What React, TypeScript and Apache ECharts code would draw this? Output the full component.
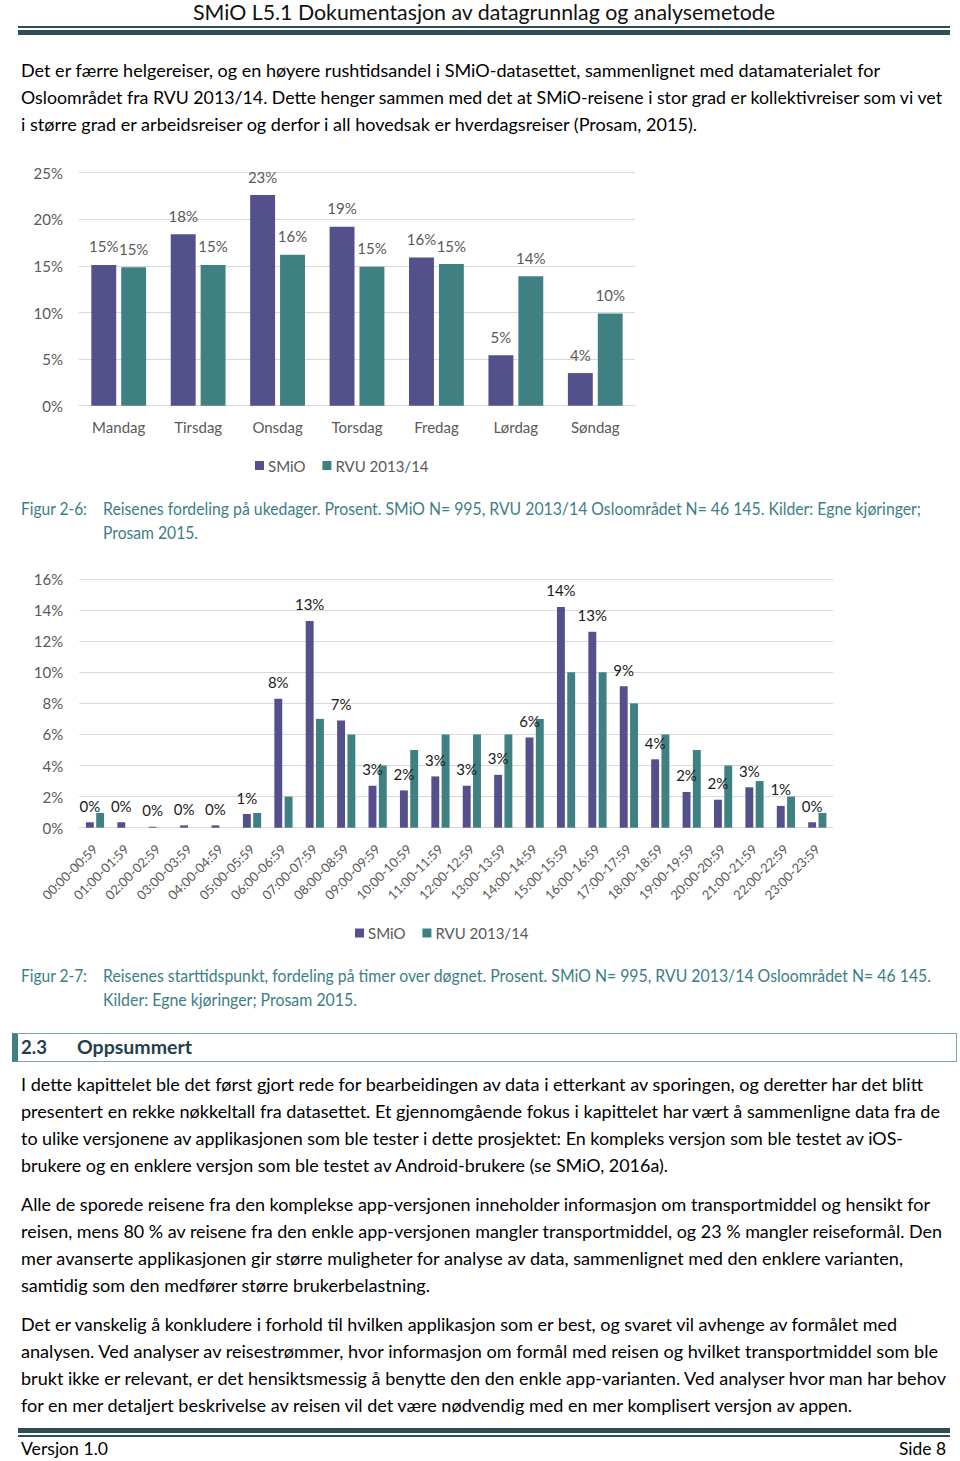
import React, { useEffect, useLayoutEffect, useRef } from "react";
import * as echarts from "echarts";

// ---------- DATA ----------
const days = ["Mandag", "Tirsdag", "Onsdag", "Torsdag", "Fredag", "Lørdag", "Søndag"];
const smioDay = [15.1, 18.4, 22.6, 19.2, 15.9, 5.4, 3.5];
const rvuDay = [14.85, 15.1, 16.2, 14.9, 15.2, 13.9, 9.9];

const hours = [
  "00:00-00:59", "01:00-01:59", "02:00-02:59", "03:00-03:59", "04:00-04:59", "05:00-05:59",
  "06:00-06:59", "07:00-07:59", "08:00-08:59", "09:00-09:59", "10:00-10:59", "11:00-11:59",
  "12:00-12:59", "13:00-13:59", "14:00-14:59", "15:00-15:59", "16:00-16:59", "17:00-17:59",
  "18:00-18:59", "19:00-19:59", "20:00-20:59", "21:00-21:59", "22:00-22:59", "23:00-23:59",
];
const smioHour = [0.35, 0.35, 0.06, 0.15, 0.15, 0.88, 8.3, 13.3, 6.9, 2.7, 2.4, 3.3, 2.7, 3.4, 5.8, 14.2, 12.6, 9.1, 4.4, 2.3, 1.8, 2.6, 1.4, 0.35];
const rvuHour = [0.95, 0, 0, 0, 0, 0.95, 2.0, 7.0, 6.0, 4.0, 5.0, 6.0, 6.0, 6.0, 7.0, 10.0, 10.0, 8.0, 6.0, 5.0, 4.0, 3.0, 2.0, 0.95];

const seriesNames = ["SMiO", "RVU 2013/14"];

// ---------- STYLE ----------
const FONT = "Lato, 'Open Sans', sans-serif";
const C_SMIO = "#54508B";
const C_RVU = "#3F8083";
const C_AXIS = "#595959";
const C_GRID = "#D9D9D9";
const C_RULE = "#2E4D55";
const C_CAPTION = "#3C7E85";

function FitLine(props: {
  x: number; y: number; w?: number; text: string; size?: number; color?: string;
  weight?: number | string;
}) {
  const { x, y, w, text, size = 17, color = "#000", weight = 400 } = props;
  const ref = useRef<HTMLSpanElement>(null);
  useLayoutEffect(() => {
    const measure = () => {
      const el = ref.current;
      if (!el || !w) return;
      el.style.transform = "none";
      const nat = el.getBoundingClientRect().width;
      if (nat > 0) el.style.transform = `scaleX(${w / nat})`;
    };
    measure();
    const fs: any = (document as any).fonts;
    if (fs && fs.ready) fs.ready.then(measure);
  }, [w, text]);
  return (
    <span
      ref={ref}
      style={{
        position: "absolute",
        left: x,
        top: y - size * 0.6,
        fontSize: size,
        lineHeight: `${size * 1.2}px`,
        whiteSpace: "nowrap",
        transformOrigin: "0 50%",
        color,
        fontWeight: weight as any,
        fontFamily: FONT,
      }}
    >
      {text}
    </span>
  );
}

function Chart(props: { option: any; left: number; top: number; width: number; height: number }) {
  const ref = useRef<HTMLDivElement>(null);
  useEffect(() => {
    if (!ref.current) return;
    const chart = echarts.init(ref.current, undefined, { renderer: "svg" });
    chart.setOption(props.option);
    return () => chart.dispose();
  }, []);
  return (
    <div
      ref={ref}
      style={{ position: "absolute", left: props.left, top: props.top, width: props.width, height: props.height }}
    />
  );
}

const pct = (p: any) => `${Math.round(p.value)}%`;

const option1 = {
  animation: false,
  textStyle: { fontFamily: FONT },
  grid: { left: 79, top: 22.7, width: 556, height: 233, containLabel: false },
  legend: {
    left: 250,
    top: 303,
    itemWidth: 9,
    itemHeight: 9,
    itemGap: 17,
    icon: "rect",
    textStyle: { color: C_AXIS, fontSize: 15, fontFamily: FONT, padding: [0, 0, 0, -1] },
    data: seriesNames,
  },
  xAxis: {
    type: "category",
    data: days,
    axisTick: { show: false },
    axisLine: { lineStyle: { color: C_GRID } },
    axisLabel: { color: C_AXIS, fontSize: 15, margin: 14, fontFamily: FONT },
  },
  yAxis: {
    type: "value",
    min: 0,
    max: 25,
    interval: 5,
    axisLabel: { formatter: "{value}%", color: C_AXIS, fontSize: 15, margin: 16, fontFamily: FONT },
    splitLine: { lineStyle: { color: C_GRID } },
    axisLine: { show: false },
    axisTick: { show: false },
  },
  series: [
    {
      name: seriesNames[0],
      type: "bar",
      data: smioDay,
      itemStyle: { color: C_SMIO },
      barGap: "20%",
      barCategoryGap: "31%",
      label: { show: true, position: "top", distance: 11, formatter: pct, color: C_AXIS, fontSize: 15, fontFamily: FONT },
    },
    {
      name: seriesNames[1],
      type: "bar",
      data: rvuDay,
      itemStyle: { color: C_RVU },
      label: { show: true, position: "top", distance: 11, formatter: pct, color: C_AXIS, fontSize: 15, fontFamily: FONT },
    },
  ],
};

const option2 = {
  animation: false,
  textStyle: { fontFamily: FONT },
  grid: { left: 79.3, top: 19, width: 753.7, height: 248.7, containLabel: false },
  legend: {
    left: 350,
    top: 360.5,
    itemWidth: 9,
    itemHeight: 9,
    itemGap: 17,
    icon: "rect",
    textStyle: { color: C_AXIS, fontSize: 15, fontFamily: FONT, padding: [0, 0, 0, -1] },
    data: seriesNames,
  },
  xAxis: {
    type: "category",
    data: hours,
    axisTick: { show: false },
    axisLine: { lineStyle: { color: C_GRID } },
    axisLabel: { color: C_AXIS, fontSize: 13, margin: 19, rotate: 45, interval: 0, fontFamily: FONT },
  },
  yAxis: {
    type: "value",
    min: 0,
    max: 16,
    interval: 2,
    axisLabel: { formatter: "{value}%", color: C_AXIS, fontSize: 15, margin: 16, fontFamily: FONT },
    splitLine: { lineStyle: { color: C_GRID } },
    axisLine: { show: false },
    axisTick: { show: false },
  },
  series: [
    {
      name: seriesNames[0],
      type: "bar",
      data: smioHour,
      itemStyle: { color: C_SMIO },
      barGap: "30%",
      barCategoryGap: "42%",
      label: { show: true, position: "top", distance: 9, formatter: pct, color: "#1a1a1a", fontSize: 15, fontFamily: FONT },
    },
    {
      name: seriesNames[1],
      type: "bar",
      data: rvuHour,
      itemStyle: { color: C_RVU },
    },
  ],
};

const para1 = [
  { t: "Det er færre helgereiser, og en høyere rushtidsandel i SMiO-datasettet, sammenlignet med datamaterialet for", r: 880 },
  { t: "Osloområdet fra RVU 2013/14. Dette henger sammen med det at SMiO-reisene i stor grad er kollektivreiser som vi vet", r: 942 },
  { t: "i større grad er arbeidsreiser og derfor i all hovedsak er hverdagsreiser (Prosam, 2015).", r: 697 },
];
const para2 = [
  { t: "I dette kapittelet ble det først gjort rede for bearbeidingen av data i etterkant av sporingen, og deretter har det blitt", r: 923 },
  { t: "presentert en rekke nøkkeltall fra datasettet. Et gjennomgående fokus i kapittelet har vært å sammenligne data fra de", r: 940 },
  { t: "to ulike versjonene av applikasjonen som ble tester i dette prosjektet: En kompleks versjon som ble testet av iOS-", r: 903 },
  { t: "brukere og en enklere versjon som ble testet av Android-brukere (se SMiO, 2016a).", r: 668 },
];
const para3 = [
  { t: "Alle de sporede reisene fra den komplekse app-versjonen inneholder informasjon om transportmiddel og hensikt for", r: 930 },
  { t: "reisen, mens 80 % av reisene fra den enkle app-versjonen mangler transportmiddel, og 23 % mangler reiseformål. Den", r: 942 },
  { t: "mer avanserte applikasjonen gir større muligheter for analyse av data, sammenlignet med den enklere varianten,", r: 903 },
  { t: "samtidig som den medfører større brukerbelastning.", r: 430 },
];
const para4 = [
  { t: "Det er vanskelig å konkludere i forhold til hvilken applikasjon som er best, og svaret vil avhenge av formålet med", r: 897 },
  { t: "analysen. Ved analyser av reisestrømmer, hvor informasjon om formål med reisen og hvilket transportmiddel som ble", r: 938 },
  { t: "brukt ikke er relevant, er det hensiktsmessig å benytte den den enkle app-varianten. Ved analyser hvor man har behov", r: 946 },
  { t: "for en mer detaljert beskrivelse av reisen vil det være nødvendig med en mer komplisert versjon av appen.", r: 852 },
];

function Para(props: { lines: { t: string; r: number }[]; y0: number }) {
  return (
    <>
      {props.lines.map((l, i) => (
        <FitLine key={i} x={21} y={props.y0 + i * 27} w={l.r - 21} text={l.t} />
      ))}
    </>
  );
}

export default function App() {
  return (
    <div
      style={{
        position: "absolute",
        left: 0,
        top: 0,
        width: 960,
        height: 1461,
        background: "#fff",
        overflow: "hidden",
        fontFamily: FONT,
      }}
    >
      {/* Header */}
      <FitLine x={193} y={12} w={582} text="SMiO L5.1 Dokumentasjon av datagrunnlag og analysemetode" size={21} color="#111" />
      <div style={{ position: "absolute", left: 18, top: 26, width: 932, height: 1.5, background: C_RULE }} />
      <div style={{ position: "absolute", left: 18, top: 29.5, width: 932, height: 5, background: C_RULE }} />

      <Para lines={para1} y0={71} />

      <Chart option={option1} left={0} top={150} width={700} height={340} />

      <FitLine x={21} y={509} w={66} text="Figur 2-6:" color={C_CAPTION} />
      <FitLine x={103} y={509} w={818} text="Reisenes fordeling på ukedager. Prosent. SMiO N= 995, RVU 2013/14 Osloområdet N= 46 145. Kilder: Egne kjøringer;" color={C_CAPTION} />
      <FitLine x={103} y={533} w={95} text="Prosam 2015." color={C_CAPTION} />

      <Chart option={option2} left={0} top={560} width={880} height={390} />

      <FitLine x={21} y={976} w={66} text="Figur 2-7:" color={C_CAPTION} />
      <FitLine x={103} y={976} w={828} text="Reisenes starttidspunkt, fordeling på timer over døgnet. Prosent. SMiO N= 995, RVU 2013/14 Osloområdet N= 46 145." color={C_CAPTION} />
      <FitLine x={103} y={1000} w={254} text="Kilder: Egne kjøringer; Prosam 2015." color={C_CAPTION} />

      {/* Section heading */}
      <div
        style={{
          position: "absolute",
          left: 12,
          top: 1033,
          width: 945,
          height: 29,
          border: "1px solid #7FA3A8",
          borderLeft: "6px solid " + C_RVU,
          boxSizing: "border-box",
        }}
      />
      <FitLine x={21} y={1047} w={26} text="2.3" size={19} weight={700} color="#1F3F4E" />
      <FitLine x={77} y={1047} w={115} text="Oppsummert" size={19} weight={700} color="#1F3F4E" />

      <Para lines={para2} y0={1085} />
      <Para lines={para3} y0={1205} />
      <Para lines={para4} y0={1325} />

      {/* Footer */}
      <div style={{ position: "absolute", left: 18, top: 1428, width: 932, height: 5, background: C_RULE }} />
      <div style={{ position: "absolute", left: 18, top: 1435, width: 932, height: 1.5, background: C_RULE }} />
      <FitLine x={21} y={1449} w={87} text="Versjon 1.0" />
      <FitLine x={899} y={1449} w={47} text="Side 8" />
    </div>
  );
}
